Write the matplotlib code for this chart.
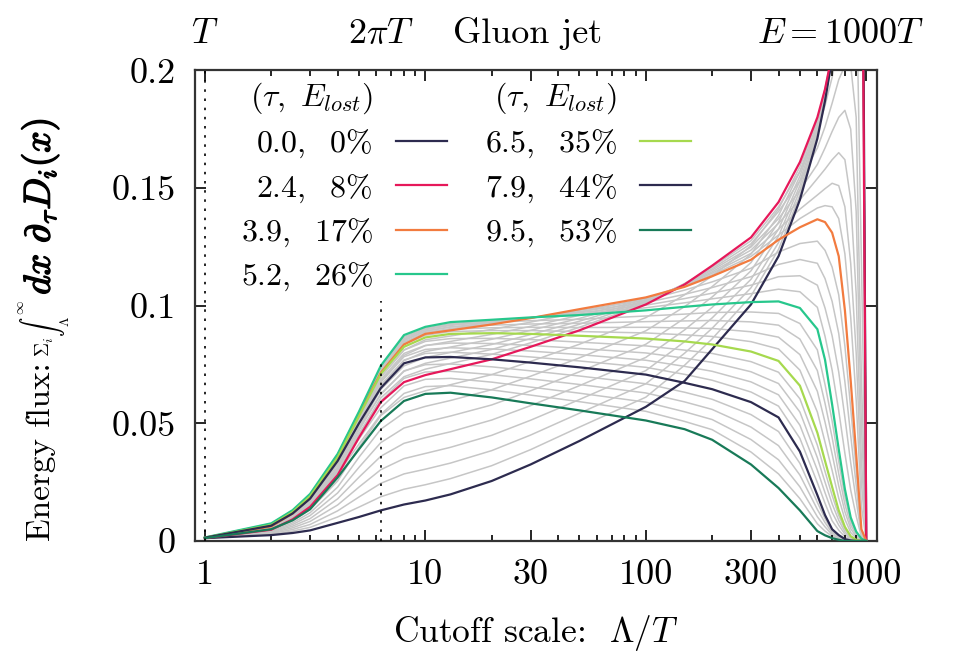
import numpy as np
import matplotlib
matplotlib.use('Agg')
import matplotlib.pyplot as plt
import matplotlib.patheffects as pe
from matplotlib.lines import Line2D
from matplotlib.ticker import FixedLocator, NullFormatter

plt.rcParams['font.family'] = 'serif'
plt.rcParams['font.serif'] = ['cmr10']
plt.rcParams['mathtext.fontset'] = 'cm'
plt.rcParams['axes.formatter.use_mathtext'] = True
plt.rcParams['axes.unicode_minus'] = False

# cutoff scale Lambda/T where the curves were read
lam = [1, 2, 2.5, 3, 4, 5, 6.28, 8, 10, 13, 20, 30, 50, 100, 150, 200, 300, 400, 500,
       600, 650, 700, 750, 800, 850, 900, 950, 1000]

# highlighted curves (tau, E_lost)
flux_00 = [0.0012, 0.0025, 0.0034, 0.0045, 0.0077, 0.0102, 0.0130, 0.0155, 0.0172, 0.0198, 0.0255, 0.0325, 0.0425,
           0.0570, 0.0680, 0.0815, 0.1005, 0.1210, 0.1450, 0.1710, 0.1870, 0.2050, 0.2250, 0.2500, 0.2800, 0.3200,
           0.3700, 0.0]
flux_24 = [0.0012, 0.0048, 0.0092, 0.0145, 0.0280, 0.0440, 0.0590, 0.0675, 0.0705, 0.0730, 0.0772, 0.0825, 0.0895,
           0.1005, 0.1090, 0.1170, 0.1290, 0.1440, 0.1610, 0.1800, 0.1920, 0.2070, 0.2250, 0.2500, 0.2800, 0.3200,
           0.3300, 0.0]
flux_39 = [0.0013, 0.0062, 0.0117, 0.0185, 0.0360, 0.0540, 0.0715, 0.0835, 0.0880, 0.0895, 0.0920, 0.0947, 0.0985,
           0.1035, 0.1080, 0.1125, 0.1195, 0.1280, 0.1333, 0.1367, 0.1355, 0.1310, 0.1210, 0.0980, 0.0680, 0.0370,
           0.0050, 0.0]
flux_52 = [0.0015, 0.0075, 0.0131, 0.0200, 0.0370, 0.0550, 0.0745, 0.0875, 0.0910, 0.0930, 0.0940, 0.0950, 0.0960,
           0.0980, 0.0995, 0.1005, 0.1015, 0.1018, 0.0990, 0.0900, 0.0770, 0.0580, 0.0390, 0.0220, 0.0100, 0.0040,
           0.0010, 0.0]
flux_65 = [0.0014, 0.0068, 0.0123, 0.0190, 0.0355, 0.0530, 0.0710, 0.0825, 0.0865, 0.0880, 0.0883, 0.0880, 0.0872,
           0.0860, 0.0848, 0.0835, 0.0805, 0.0765, 0.0660, 0.0460, 0.0340, 0.0230, 0.0130, 0.0060, 0.0020, 0.0005,
           0.0, 0.0]
flux_79 = [0.0014, 0.0065, 0.0117, 0.0180, 0.0340, 0.0500, 0.0650, 0.0755, 0.0780, 0.0782, 0.0772, 0.0758, 0.0738,
           0.0707, 0.0672, 0.0645, 0.0590, 0.0525, 0.0380, 0.0195, 0.0110, 0.0050, 0.0025, 0.0008, 0.0002, 0.0,
           0.0, 0.0]
flux_95 = [0.0012, 0.0050, 0.0088, 0.0135, 0.0270, 0.0390, 0.0510, 0.0595, 0.0625, 0.0630, 0.0610, 0.0585, 0.0555,
           0.0512, 0.0475, 0.0430, 0.0325, 0.0225, 0.0130, 0.0042, 0.0024, 0.0012, 0.0005, 0.0, 0.0, 0.0, 0.0, 0.0]

leg_labels = [r'$0.0,\ \ 0\%$', r'$2.4,\ \ 8\%$', r'$3.9,\ \ 17\%$', r'$5.2,\ \ 26\%$',
              r'$6.5,\ \ 35\%$', r'$7.9,\ \ 44\%$', r'$9.5,\ \ 53\%$']
colors = ['#2d2b4f', '#e6185a', '#f27b3f', '#27c78c', '#a6d94e', '#2d2b4f', '#187a58']

# intermediate time steps (grey)
gray_curves = [
    # between tau = 0 and 2.4
    [0.0012, 0.0028, 0.0042, 0.0058, 0.0102, 0.0144, 0.0188, 0.0220, 0.0239, 0.0265, 0.0320, 0.0388, 0.0484, 0.0611,
     0.0747, 0.0859, 0.1041, 0.1239, 0.1470, 0.1721, 0.188, 0.2052, 0.225, 0.25, 0.28, 0.32, 0.36, 0.0],
    [0.0012, 0.0031, 0.0049, 0.0070, 0.0128, 0.0187, 0.0245, 0.0285, 0.0305, 0.0331, 0.0384, 0.0450, 0.0543, 0.0668,
     0.0798, 0.0904, 0.1076, 0.1268, 0.1490, 0.1733, 0.189, 0.2055, 0.225, 0.25, 0.28, 0.32, 0.36, 0.0],
    [0.0012, 0.0034, 0.0056, 0.0083, 0.0153, 0.0229, 0.0303, 0.0350, 0.0372, 0.0398, 0.0449, 0.0513, 0.0601, 0.0724,
     0.0847, 0.0948, 0.1112, 0.1296, 0.1510, 0.1744, 0.190, 0.2058, 0.225, 0.25, 0.28, 0.32, 0.35, 0.0],
    [0.0012, 0.0037, 0.0063, 0.0095, 0.0179, 0.0271, 0.0360, 0.0415, 0.0439, 0.0464, 0.0514, 0.0575, 0.0660, 0.0780,
     0.0897, 0.0993, 0.1148, 0.1325, 0.1530, 0.1755, 0.190, 0.2060, 0.225, 0.25, 0.28, 0.32, 0.35, 0.0],
    [0.0012, 0.0039, 0.0070, 0.0108, 0.0204, 0.0313, 0.0418, 0.0480, 0.0505, 0.0531, 0.0578, 0.0638, 0.0719, 0.0836,
     0.0947, 0.1037, 0.1183, 0.1354, 0.1550, 0.1766, 0.191, 0.2063, 0.225, 0.25, 0.28, 0.32, 0.35, 0.0],
    [0.0012, 0.0042, 0.0077, 0.0120, 0.0229, 0.0356, 0.0475, 0.0545, 0.0572, 0.0597, 0.0643, 0.0700, 0.0778, 0.0893,
     0.0996, 0.1081, 0.1219, 0.1383, 0.1570, 0.1778, 0.192, 0.2065, 0.225, 0.25, 0.28, 0.32, 0.34, 0.0],
    [0.0012, 0.0045, 0.0085, 0.0133, 0.0255, 0.0398, 0.0533, 0.0610, 0.0638, 0.0664, 0.0707, 0.0763, 0.0836, 0.0949,
     0.1046, 0.1126, 0.1254, 0.1411, 0.1590, 0.1789, 0.192, 0.2068, 0.225, 0.25, 0.28, 0.32, 0.34, 0.0],
    # between tau = 2.4 and 3.9
    [0.0012, 0.0050, 0.0095, 0.0151, 0.0291, 0.0454, 0.0608, 0.0698, 0.0730, 0.0754, 0.0793, 0.0842, 0.0908, 0.1009,
     0.1094, 0.1164, 0.1276, 0.142, 0.157, 0.174, 0.185, 0.197, 0.211, 0.225, 0.24, 0.24, 0.12, 0.0],
    [0.0012, 0.0052, 0.0099, 0.0156, 0.0303, 0.0469, 0.0626, 0.0721, 0.0755, 0.0777, 0.0814, 0.0860, 0.0921, 0.1014,
     0.1093, 0.1157, 0.1263, 0.140, 0.153, 0.167, 0.176, 0.186, 0.196, 0.202, 0.202, 0.18, 0.07, 0.0],
    [0.0012, 0.0054, 0.0103, 0.0162, 0.0314, 0.0483, 0.0644, 0.0744, 0.0780, 0.0801, 0.0835, 0.0877, 0.0934, 0.1018,
     0.1091, 0.1151, 0.1249, 0.137, 0.149, 0.160, 0.167, 0.174, 0.180, 0.183, 0.175, 0.14, 0.05, 0.0],
    [0.0012, 0.0056, 0.0106, 0.0168, 0.0326, 0.0497, 0.0661, 0.0766, 0.0805, 0.0824, 0.0857, 0.0895, 0.0946, 0.1022,
     0.1089, 0.1144, 0.1236, 0.135, 0.145, 0.154, 0.158, 0.162, 0.165, 0.162, 0.145, 0.105, 0.035, 0.0],
    [0.0013, 0.0058, 0.0110, 0.0174, 0.0337, 0.0511, 0.0679, 0.0789, 0.0830, 0.0848, 0.0878, 0.0912, 0.0959, 0.1026,
     0.1088, 0.1138, 0.1222, 0.1325, 0.141, 0.147, 0.1497, 0.152, 0.151, 0.142, 0.118, 0.08, 0.025, 0.0],
    [0.0013, 0.0060, 0.0114, 0.0179, 0.0349, 0.0526, 0.0697, 0.0812, 0.0855, 0.0871, 0.0899, 0.0930, 0.0972, 0.1031,
     0.1086, 0.1131, 0.1209, 0.130, 0.137, 0.1415, 0.1425, 0.142, 0.137, 0.122, 0.095, 0.06, 0.015, 0.0],
    # between tau = 3.9 and 5.2
    [0.0013, 0.0065, 0.0120, 0.0188, 0.0362, 0.0542, 0.0721, 0.0843, 0.0886, 0.0902, 0.0924, 0.0948, 0.0980, 0.1024,
     0.1066, 0.1101, 0.1159, 0.1228, 0.1264, 0.1274, 0.1235, 0.1164, 0.1046, 0.0828, 0.0564, 0.0304, 0.0042, 0.0],
    [0.0013, 0.0067, 0.0123, 0.0191, 0.0364, 0.0544, 0.0727, 0.0851, 0.0892, 0.0909, 0.0928, 0.0948, 0.0975, 0.1013,
     0.1048, 0.1077, 0.1123, 0.1175, 0.1196, 0.1180, 0.1115, 0.1018, 0.0882, 0.0676, 0.0448, 0.0238, 0.0034, 0.0],
    [0.0014, 0.0070, 0.0126, 0.0194, 0.0366, 0.0546, 0.0733, 0.0859, 0.0898, 0.0916, 0.0932, 0.0949, 0.0970, 0.1002,
     0.1030, 0.1053, 0.1087, 0.1123, 0.1127, 0.1087, 0.0990, 0.0872, 0.0718, 0.0524, 0.0332, 0.0172, 0.0026, 0.0],
    [0.0015, 0.0072, 0.0128, 0.0197, 0.0368, 0.0548, 0.0739, 0.0867, 0.0904, 0.0923, 0.0936, 0.0949, 0.0965, 0.0991,
     0.1012, 0.1029, 0.1051, 0.1070, 0.1059, 0.0993, 0.0870, 0.0726, 0.0554, 0.0372, 0.0216, 0.0106, 0.0018, 0.0],
    # between tau = 5.2 and 6.5
    [0.0015, 0.0074, 0.0130, 0.0198, 0.0367, 0.0546, 0.0738, 0.0865, 0.0901, 0.0920, 0.0929, 0.0936, 0.0942, 0.0956,
     0.0964, 0.0971, 0.0973, 0.0967, 0.0924, 0.0812, 0.0665, 0.0510, 0.0338, 0.0188, 0.0084, 0.0033, 0.0008, 0.0],
    [0.0015, 0.0072, 0.0128, 0.0196, 0.0364, 0.0542, 0.0731, 0.0855, 0.0892, 0.0910, 0.0917, 0.0922, 0.0925, 0.0932,
     0.0935, 0.0937, 0.0931, 0.0917, 0.0858, 0.0724, 0.0585, 0.0440, 0.0286, 0.0156, 0.0068, 0.0026, 0.0006, 0.0],
    [0.0014, 0.0071, 0.0126, 0.0194, 0.0361, 0.0538, 0.0724, 0.0845, 0.0883, 0.0900, 0.0906, 0.0908, 0.0907, 0.0908,
     0.0905, 0.0903, 0.0889, 0.0866, 0.0792, 0.0636, 0.0505, 0.0370, 0.0234, 0.0124, 0.0052, 0.0019, 0.0004, 0.0],
    [0.0014, 0.0069, 0.0124, 0.0192, 0.0358, 0.0534, 0.0717, 0.0835, 0.0874, 0.0890, 0.0894, 0.0894, 0.0890, 0.0884,
     0.0876, 0.0869, 0.0847, 0.0816, 0.0726, 0.0548, 0.0420, 0.0300, 0.0182, 0.0092, 0.0036, 0.0012, 0.0002, 0.0],
    # between tau = 6.5 and 7.9
    [0.0014, 0.0067, 0.0121, 0.0188, 0.0352, 0.0524, 0.0698, 0.0811, 0.0848, 0.0860, 0.0861, 0.0856, 0.0845, 0.0829,
     0.0811, 0.0797, 0.0762, 0.0717, 0.0604, 0.0407, 0.0295, 0.0194, 0.0109, 0.0050, 0.0016, 0.0004, 0.0, 0.0],
    [0.0014, 0.0067, 0.0121, 0.0186, 0.0349, 0.0518, 0.0686, 0.0797, 0.0831, 0.0841, 0.0839, 0.0831, 0.0818, 0.0799,
     0.0777, 0.0759, 0.0719, 0.0669, 0.0548, 0.0354, 0.0250, 0.0158, 0.0088, 0.0039, 0.0013, 0.0003, 0.0, 0.0],
    [0.0014, 0.0066, 0.0119, 0.0184, 0.0346, 0.0512, 0.0674, 0.0783, 0.0814, 0.0821, 0.0816, 0.0807, 0.0792, 0.0768,
     0.0742, 0.0721, 0.0676, 0.0621, 0.0492, 0.0301, 0.0205, 0.0122, 0.0067, 0.0029, 0.0009, 0.0002, 0.0, 0.0],
    [0.0014, 0.0066, 0.0118, 0.0182, 0.0343, 0.0506, 0.0662, 0.0769, 0.0797, 0.0802, 0.0794, 0.0782, 0.0765, 0.0738,
     0.0708, 0.0683, 0.0633, 0.0573, 0.0436, 0.0248, 0.0160, 0.0086, 0.0046, 0.0018, 0.0006, 0.0001, 0.0, 0.0],
    # between tau = 7.9 and 9.5
    [0.0014, 0.0062, 0.0111, 0.0171, 0.0326, 0.0478, 0.0622, 0.0723, 0.0749, 0.0752, 0.0740, 0.0723, 0.0701, 0.0668,
     0.0632, 0.0602, 0.0537, 0.0465, 0.0330, 0.0164, 0.0095, 0.0042, 0.0021, 0.0006, 0.0002, 0.0, 0.0, 0.0],
    [0.0013, 0.0059, 0.0105, 0.0162, 0.0312, 0.0456, 0.0594, 0.0691, 0.0718, 0.0721, 0.0707, 0.0689, 0.0665, 0.0629,
     0.0591, 0.0559, 0.0484, 0.0405, 0.0280, 0.0134, 0.0078, 0.0035, 0.0017, 0.0005, 0.0001, 0.0, 0.0, 0.0],
    [0.0013, 0.0056, 0.0100, 0.0153, 0.0298, 0.0434, 0.0566, 0.0659, 0.0687, 0.0691, 0.0675, 0.0654, 0.0628, 0.0590,
     0.0549, 0.0516, 0.0431, 0.0345, 0.0230, 0.0103, 0.0060, 0.0027, 0.0013, 0.0003, 0.0001, 0.0, 0.0, 0.0],
    [0.0012, 0.0053, 0.0094, 0.0144, 0.0284, 0.0412, 0.0538, 0.0627, 0.0656, 0.0660, 0.0642, 0.0620, 0.0592, 0.0551,
     0.0508, 0.0473, 0.0378, 0.0285, 0.0180, 0.0073, 0.0042, 0.0020, 0.0009, 0.0002, 0.0, 0.0, 0.0, 0.0],
]

x_ticks = [1, 10, 30, 100, 300, 1000]
x_ticklabels = ['1', '10', '30', '100', '300', '1000']
y_ticks = [0, 0.05, 0.1, 0.15, 0.2]
y_ticklabels = ['0', '0.05', '0.1', '0.15', '0.2']

fig = plt.figure(figsize=(9.55, 6.51), dpi=100)
ax = fig.add_axes([0.204, 0.169, 0.714, 0.723])

for g in gray_curves:
    ax.plot(lam, g, color='#c6c6c6', lw=1.1, zorder=1)

curves = [flux_00, flux_24, flux_39, flux_52, flux_65, flux_79, flux_95]
lines = []
for vals, col in zip(curves, colors):
    ln, = ax.plot(lam, vals, color=col, lw=1.6, zorder=3)
    lines.append(ln)

# T and 2 pi T markers
ax.axvline(1, color='black', lw=1.2, ls=(0, (1.5, 4)), zorder=4)
ax.axvline(2 * np.pi, ymax=0.51, color='black', lw=1.2, ls=(0, (1.5, 4)), zorder=4)

ax.set_xscale('log')
ax.set_xlim(0.9, 1115)
ax.set_ylim(0, 0.2)
ax.set_xticks(x_ticks)
ax.set_xticklabels(x_ticklabels)
minor = [m * d for d in (1, 10, 100) for m in range(2, 10)]
minor = [v for v in minor if v not in (30, 300)]
ax.xaxis.set_minor_locator(FixedLocator(minor))
ax.xaxis.set_minor_formatter(NullFormatter())
ax.set_yticks(y_ticks)
ax.set_yticklabels(y_ticklabels)
ax.tick_params(which='both', direction='in', top=True, right=True, width=1.2, labelsize=26)
ax.tick_params(which='major', length=8)
ax.tick_params(which='minor', length=4)
ax.tick_params(axis='x', pad=13)
ax.tick_params(axis='y', pad=14)
for s in ax.spines.values():
    s.set_linewidth(1.6)
    s.set_color('#333333')

ax.set_xlabel(r'Cutoff scale:  $\Lambda/T$', fontsize=25.5, labelpad=16)

# legend in two columns with headers
blank = Line2D([], [], color='none')
hdr = r'$(\tau,\ E_{lost})$'
handles = [blank] + lines[:4] + [blank] + lines[4:] + [blank]
labels = [hdr] + leg_labels[:4] + [hdr] + leg_labels[4:] + ['']
ax.legend(handles, labels, ncol=2, loc='upper left', bbox_to_anchor=(0.067, 0.978),
          frameon=False, markerfirst=False, handlelength=1.6, handletextpad=0.7,
          columnspacing=1.2, labelspacing=0.37, fontsize=23, borderaxespad=0, borderpad=0)

# labels above the frame
tr = ax.get_xaxis_transform()
ax.text(1, 1.058, r'$T$', transform=tr, ha='center', va='baseline', fontsize=26)
ax.text(2 * np.pi, 1.058, r'$2\pi T$', transform=tr, ha='center', va='baseline', fontsize=26)
ax.text(0.488, 1.058, 'Gluon jet', transform=ax.transAxes, ha='center', va='baseline', fontsize=26)
ax.text(1.07, 1.058, r'$E = 1000T$', transform=ax.transAxes, ha='right', va='baseline', fontsize=26)

# y label built from three pieces
fig.canvas.draw()
r = fig.canvas.get_renderer()
inv = fig.transFigure.inverted()
t1 = fig.text(0.043, 0.169, 'Energy flux:', rotation=90, ha='center', va='bottom', fontsize=24)
y1 = t1.get_window_extent(r).transformed(inv).y1
t2 = fig.text(0.046, y1 + 0.008, r'$\Sigma_i\int_\Lambda^\infty$', rotation=90,
              ha='center', va='bottom', fontsize=14)
y2 = t2.get_window_extent(r).transformed(inv).y1
fig.text(0.042, y2 + 0.008, r'$dx\ \partial_\tau D_i(x)$', rotation=90, ha='center', va='bottom',
         fontsize=27, path_effects=[pe.withStroke(linewidth=1.0, foreground='black')])

fig.savefig('out.png', dpi=100)
